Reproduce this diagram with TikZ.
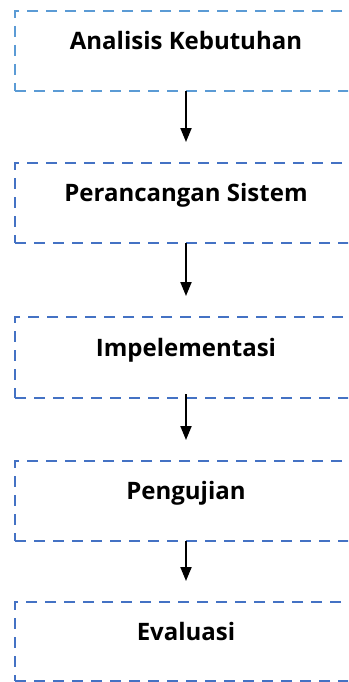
\documentclass[tikz,border=0pt]{standalone}
\usepackage{fontspec}
\setmainfont{Open Sans}
\usetikzlibrary{positioning,arrows.meta}

\begin{document}
\begin{tikzpicture}[x=1pt,y=1pt,
  stage/.style={draw=stageblue,line width=2pt,dash pattern=on 11pt off 8pt,
    minimum width=342pt,minimum height=80pt,inner sep=0pt,outer sep=0pt,
    font=\fontsize{24}{28}\selectfont\bfseries,text height=17pt,text depth=20pt},
  first/.style={stage,draw=firstblue},
  arr/.style={-{Triangle[width=11pt,length=14pt]},line width=2pt,shorten >=21pt}]
  \definecolor{stageblue}{HTML}{4472C4}
  \definecolor{firstblue}{HTML}{5B9BD5}
  \path[use as bounding box,clip] (0,0) rectangle (348,-682);
  % the five stages, top to bottom
  \node[first] (analisis) at (186,-51) {Analisis Kebutuhan};
  \node[stage,below=72pt of analisis] (rancang) {Perancangan Sistem};
  \node[stage,below=74pt of rancang,minimum height=81pt] (impl) {Impelementasi};
  \node[stage,below=63pt of impl] (uji) {Pengujian};
  \node[stage,below=61pt of uji,minimum height=79pt] (eval) {Evaluasi};
  % arrows
  \draw[arr] (analisis) -- (rancang);
  \draw[arr] (rancang) -- (impl);
  \draw[arr,shorten <=-4pt] (impl) -- (uji);
  \draw[arr] (uji) -- (eval);
\end{tikzpicture}
\end{document}
